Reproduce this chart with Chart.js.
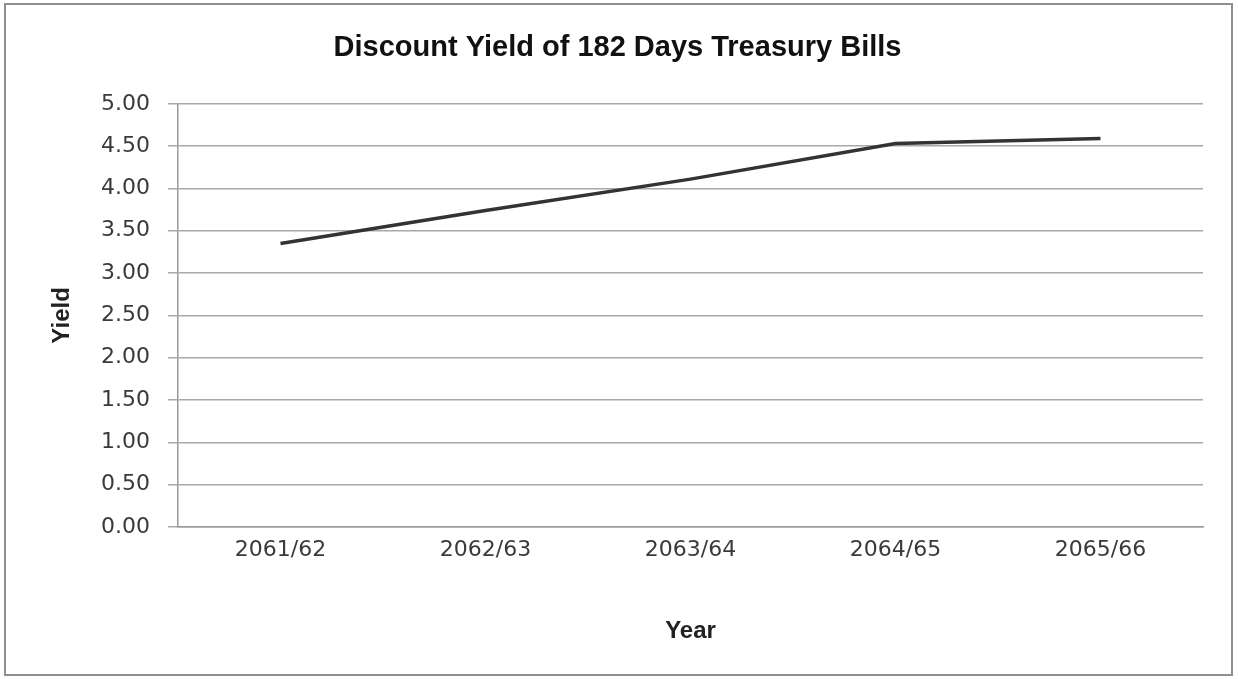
<!DOCTYPE html>
<html lang="en">
<head>
<meta charset="UTF-8">
<title>Discount Yield of 182 Days Treasury Bills</title>
<style>
  body { margin: 0; background: #fff; }
  #box { position: absolute; left: 4px; top: 3px; width: 1229px; height: 673px;
         border: 2px solid #8f8f8f; box-sizing: border-box; background: #fff; }
</style>
</head>
<body>
<div id="box"><canvas id="myChart"></canvas></div>
<script src="https://cdn.jsdelivr.net/npm/chart.js"></script>
<script>
// data
const years = ['2061/62', '2062/63', '2063/64', '2064/65', '2065/66'];
const yieldValues = [3.35, 3.74, 4.11, 4.53, 4.59];
const yTicks = [0, 0.5, 1, 1.5, 2, 2.5, 3, 3.5, 4, 4.5, 5];

const box = document.getElementById('box');
const ctx = document.getElementById('myChart');
ctx.width = box.clientWidth;
ctx.height = box.clientHeight;

new Chart(ctx, {
  type: 'line',
  data: {
    labels: years,
    datasets: [{
      label: 'Yield',
      data: yieldValues,
      borderColor: '#333333',
      borderWidth: 3.5,
      pointRadius: 0,
      tension: 0
    }]
  },
  options: {
    responsive: false,
    animation: false,
    layout: { padding: { left: 26, right: 28, top: 0, bottom: 0 } },
    plugins: {
      legend: { display: false },
      tooltip: { enabled: false },
      title: {
        display: true,
        text: 'Discount Yield of 182 Days Treasury Bills',
        color: '#111',
        font: { family: 'Liberation Sans', size: 29, weight: 'bold' },
        padding: { top: 26, bottom: 38 }
      }
    },
    scales: {
      x: {
        offset: true,
        grid: { display: false, drawTicks: false },
        border: { display: true, color: '#9a9a9a', width: 1.5 },
        ticks: { color: '#3a3a3a', padding: 10, font: { family: 'DejaVu Sans', size: 22 } },
        title: {
          display: true, text: 'Year', color: '#222',
          font: { family: 'Liberation Sans', size: 24, weight: 'bold' },
          padding: { top: 0, bottom: 28 }
        },
        afterFit: s => { s.height = 147; }
      },
      y: {
        min: 0, max: 5,
        afterBuildTicks: s => { s.ticks = yTicks.map(v => ({ value: v })); },
        grid: { color: '#a8a8a8', lineWidth: 1.5, tickLength: 10 },
        border: { display: true, color: '#9a9a9a', width: 1.5 },
        ticks: {
          color: '#3a3a3a', padding: 18,
          font: { family: 'DejaVu Sans', size: 22 },
          callback: v => Number(v).toFixed(2)
        },
        title: {
          display: true, text: 'Yield', color: '#222',
          font: { family: 'Liberation Sans', size: 24, weight: 'bold' },
          padding: { top: 16, bottom: 0 }
        },
        afterFit: s => { s.width = 146; }
      }
    }
  }
});
</script>
</body>
</html>
